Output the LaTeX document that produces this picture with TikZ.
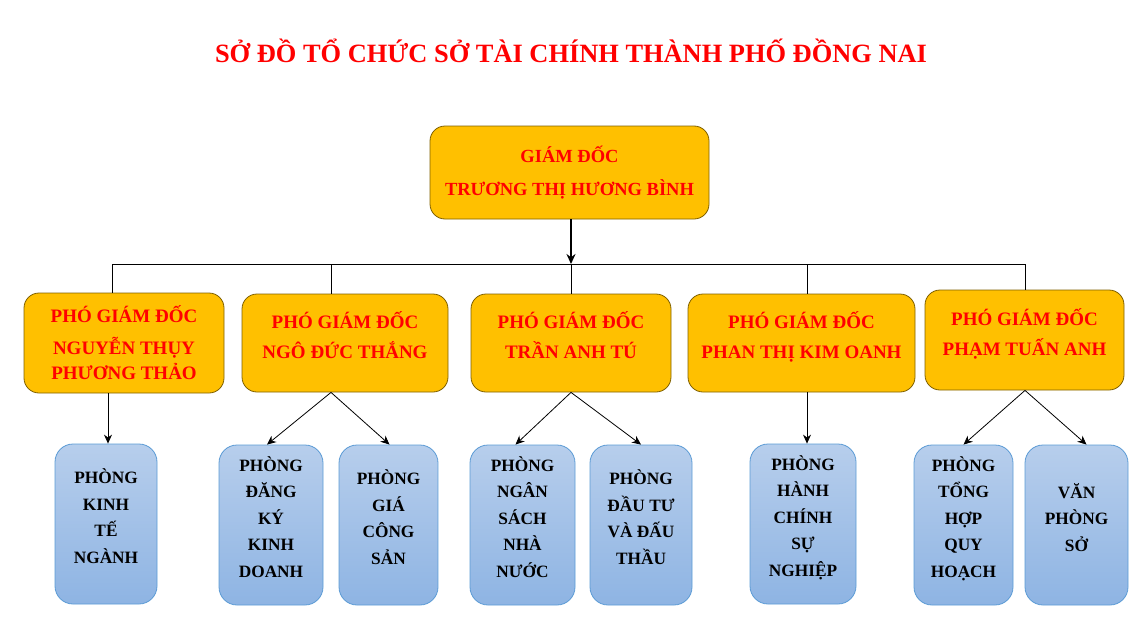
\documentclass[tikz,border=0pt]{standalone}
\usepackage{fontspec}
\setmainfont{Liberation Serif}
\usetikzlibrary{arrows.meta,positioning,calc}
\definecolor{vang}{RGB}{255,192,0}
\definecolor{vienvang}{RGB}{127,96,0}
\definecolor{chudo}{RGB}{255,0,0}
\definecolor{xanhtren}{RGB}{183,206,236}
\definecolor{xanhduoi}{RGB}{142,180,227}
\definecolor{vienxanh}{RGB}{91,155,213}
\tikzset{gd/.style={draw=vienvang, fill=vang, rectangle, rounded corners=15pt, text=chudo, align=center, inner sep=0pt}}
\tikzstyle{pgd}=[gd, font=\bfseries\fontsize{19}{30}\selectfont]
\tikzstyle{phong}=[draw=vienxanh, top color=xanhtren, bottom color=xanhduoi, rounded corners=18pt, align=center, inner sep=0pt, minimum height=160pt, text depth=16pt, font=\bfseries\fontsize{17.3}{26.5}\selectfont]

\begin{document}
\begin{tikzpicture}[x=1pt, y=-1pt, >={Stealth[length=9pt,width=8pt]}, line width=0.8pt]
\useasboundingbox (0,0) rectangle (1147,634);
\node[font=\bfseries\fontsize{26.4}{30}\selectfont, text=chudo] (title) at (571,51) {SỞ ĐỒ TỔ CHỨC SỞ TÀI CHÍNH THÀNH PHỐ ĐỒNG NAI};

\node[gd, minimum width=279pt, minimum height=93pt, font=\bfseries\fontsize{18.5}{33}\selectfont] (G) at (569.5,172.5) {GIÁM ĐỐC\\TRƯƠNG THỊ HƯƠNG BÌNH};

\node[pgd, minimum width=200pt, minimum height=100pt] (P1) at (124,343) {PHÓ GIÁM ĐỐC\\[2pt]NGUYỄN THỤY\\[-5pt]PHƯƠNG THẢO};
\node[pgd, minimum width=206pt, minimum height=98pt, text depth=16pt] (P2) at (345,343) {PHÓ GIÁM ĐỐC\\NGÔ ĐỨC THẮNG};
\node[pgd, minimum width=200pt, minimum height=98pt, text depth=16pt] (P3) at (571,343) {PHÓ GIÁM ĐỐC\\TRẦN ANH TÚ};
\node[pgd, minimum width=227pt, minimum height=98pt, text depth=16pt] (P4) at (801.5,343) {PHÓ GIÁM ĐỐC\\PHAN THỊ KIM OANH};
\node[pgd, minimum width=199pt, minimum height=100pt, text depth=16pt] (P5) at (1024.5,340) {PHÓ GIÁM ĐỐC\\PHẠM TUẤN ANH};

\node[phong, minimum width=102pt] (KT) at (106,524) {PHÒNG\\KINH\\TẾ\\NGÀNH};
\node[phong, minimum width=104pt] (DK) at (271,525) {PHÒNG\\ĐĂNG\\KÝ\\KINH\\DOANH};
\node[phong, minimum width=99pt] (GC) at (388.5,525) {PHÒNG\\GIÁ\\CÔNG\\SẢN};
\node[phong, minimum width=105pt] (NS) at (522.5,525) {PHÒNG\\NGÂN\\SÁCH\\NHÀ\\NƯỚC};
\node[phong, minimum width=102pt] (DT) at (641,525) {PHÒNG\\ĐẦU TƯ\\VÀ ĐẤU\\THẦU};
\node[phong, minimum width=106pt] (HC) at (803,524) {PHÒNG\\HÀNH\\CHÍNH\\SỰ\\NGHIỆP};
\node[phong, minimum width=99pt] (TH) at (963.5,525) {PHÒNG\\TỔNG\\HỢP\\QUY\\HOẠCH};
\node[phong, minimum width=103pt] (VP) at (1076.5,525) {VĂN\\PHÒNG\\SỞ};

% duong ngang
\coordinate (b1) at (112,264);
\coordinate (b2) at (331,264);
\coordinate (b3) at (571,264);
\coordinate (b4) at (807,264);
\coordinate (b5) at (1025,264);
\draw (b1) -- (b5);
\draw[->, line width=1.8pt, >={Stealth[length=10pt,width=9pt]}] (b3 |- G.south) -- (b3);
\draw (b1) -- (b1 |- P1.north)
      (b2) -- (b2 |- P2.north)
      (b3) -- (b3 |- P3.north)
      (b4) -- (b4 |- P4.north)
      (b5) -- (b5 |- P5.north);

\path[->] (P1.south -| 108,0) edge (KT.north -| 108,0)
	(b2 |- P2.south) edge ([xshift=-4pt]DK.north)
	(b2 |- P2.south) edge ([xshift=1pt]GC.north)
	(b3 |- P3.south) edge ([xshift=-7pt]NS.north)
	(b3 |- P3.south) edge (DT.north)
	(b4 |- P4.south) edge (b4 |- HC.north)
	(b5 |- P5.south) edge (TH.north)
	(b5 |- P5.south) edge ([xshift=10pt]VP.north)
;
\end{tikzpicture}
\end{document}
